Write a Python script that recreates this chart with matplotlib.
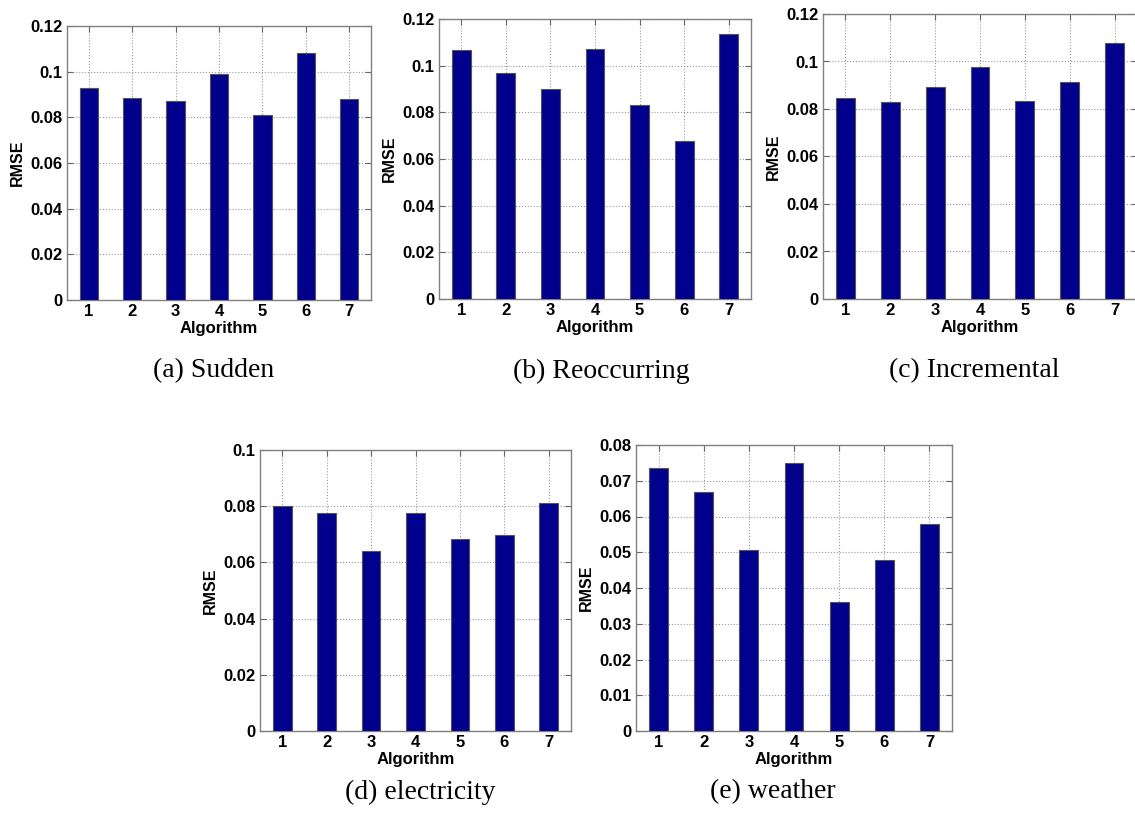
import numpy as np
import matplotlib
matplotlib.use('Agg')
import matplotlib.pyplot as plt
from matplotlib.ticker import FuncFormatter

algos = [1, 2, 3, 4, 5, 6, 7]

sudden = [0.093, 0.0884, 0.0872, 0.0991, 0.0809, 0.1081, 0.0881]
reoccurring = [0.1066, 0.0970, 0.0899, 0.1073, 0.0831, 0.0679, 0.1134]
incremental = [0.0846, 0.0828, 0.0892, 0.0975, 0.0832, 0.0915, 0.1079]
electricity = [0.0801, 0.0776, 0.0639, 0.0776, 0.0685, 0.0696, 0.0813]
weather = [0.0735, 0.0669, 0.0507, 0.0750, 0.0361, 0.0479, 0.0580]

captions = ['(a) Sudden', '(b) Reoccurring', '(c) Incremental',
            '(d) electricity', '(e) weather']
ytops = [0.12, 0.12, 0.12, 0.1, 0.08]
ysteps = [0.02, 0.02, 0.02, 0.02, 0.01]
series = [sudden, reoccurring, incremental, electricity, weather]

W, H = 1135, 813
# axes boxes in pixels: left, right, top, bottom
boxes = [(67, 371, 26, 300), (439, 751, 19, 299), (823, 1137, 14, 299),
         (260, 571, 450, 731), (636, 952, 445, 731)]
# caption centres in pixels
cap_xy = [(214, 371), (601, 371), (974, 371), (420, 792), (773, 792)]

plt.rcParams['font.family'] = 'Liberation Sans'
fig = plt.figure(figsize=(W / 100, H / 100), dpi=100)

fmt = FuncFormatter(lambda v, p: '%g' % round(v, 4))

for vals, top, step, box, cap, cxy in zip(series, ytops, ysteps, boxes, captions, cap_xy):
    l, r, t, b = box
    ax = fig.add_axes([l / W, 1 - b / H, (r - l) / W, (b - t) / H])
    ax.bar(algos, vals, width=0.42, color='#00008c', edgecolor='#555555',
           linewidth=0.8, zorder=3)
    ax.set_xlim(0.5, 7.5)
    ax.set_ylim(0, top)
    ax.set_xticks(algos)
    ax.set_yticks(np.arange(0, top + step / 2, step))
    ax.yaxis.set_major_formatter(fmt)
    ax.grid(True, linestyle=':', color='#999999', linewidth=0.8, zorder=0)
    ax.tick_params(direction='in', length=4, width=0.8, color='#666666',
                   top=True, right=True, labelsize=12, pad=3)
    for lab in ax.get_xticklabels() + ax.get_yticklabels():
        lab.set_fontweight('bold')
    for sp in ax.spines.values():
        sp.set_color('#808080')
        sp.set_linewidth(1.0)
    ax.set_xlabel('Algorithm', fontsize=12, fontweight='bold', labelpad=1)
    ax.set_ylabel('RMSE', fontsize=11.5, fontweight='bold', labelpad=4)
    fig.text(cxy[0] / W, 1 - cxy[1] / H, cap, ha='center', va='center',
             fontsize=20, family='Liberation Serif')

fig.savefig('out.png', dpi=100)
